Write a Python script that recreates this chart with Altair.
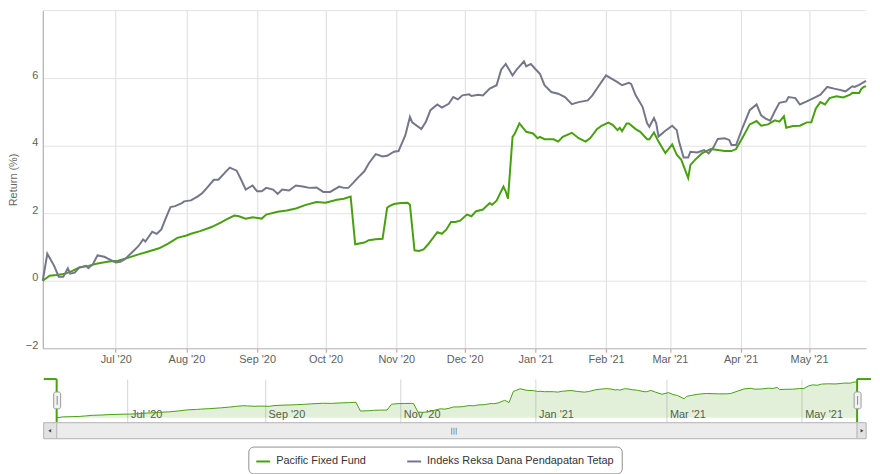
import altair as alt
import pandas as pd

FUND = "Pacific Fixed Fund"
INDEX = "Indeks Reksa Dana Pendapatan Tetap"

fund_dates = [
    "2020-05-30", "2020-06-02", "2020-06-05", "2020-06-09", "2020-06-12", "2020-06-15", "2020-06-19",
    "2020-06-23", "2020-06-28", "2020-07-02", "2020-07-06", "2020-07-11", "2020-07-15", "2020-07-20",
    "2020-07-24", "2020-07-28", "2020-08-01", "2020-08-03", "2020-08-07", "2020-08-12", "2020-08-16",
    "2020-08-19", "2020-08-22", "2020-08-24", "2020-08-27", "2020-08-30", "2020-09-03", "2020-09-05",
    "2020-09-10", "2020-09-14", "2020-09-18", "2020-09-22", "2020-09-27", "2020-10-01", "2020-10-06",
    "2020-10-09", "2020-10-12", "2020-10-14", "2020-10-18", "2020-10-20", "2020-10-23", "2020-10-26",
    "2020-10-28", "2020-10-29", "2020-10-31", "2020-11-03", "2020-11-06", "2020-11-07", "2020-11-09",
    "2020-11-11", "2020-11-13", "2020-11-15", "2020-11-19", "2020-11-21", "2020-11-23", "2020-11-25",
    "2020-11-27", "2020-11-29", "2020-12-02", "2020-12-04", "2020-12-06", "2020-12-09", "2020-12-12",
    "2020-12-13", "2020-12-15", "2020-12-18", "2020-12-19", "2020-12-20", "2020-12-22", "2020-12-23",
    "2020-12-25", "2020-12-28", "2020-12-31", "2021-01-02", "2021-01-03", "2021-01-05", "2021-01-09",
    "2021-01-11", "2021-01-13", "2021-01-17", "2021-01-20", "2021-01-23", "2021-01-25", "2021-01-28",
    "2021-01-30", "2021-02-02", "2021-02-04", "2021-02-06", "2021-02-07", "2021-02-08", "2021-02-10",
    "2021-02-11", "2021-02-14", "2021-02-16", "2021-02-19", "2021-02-20", "2021-02-22", "2021-02-24",
    "2021-02-27", "2021-03-02", "2021-03-04", "2021-03-06", "2021-03-09", "2021-03-10", "2021-03-12",
    "2021-03-15", "2021-03-17", "2021-03-19", "2021-03-22", "2021-03-25", "2021-03-28", "2021-03-30",
    "2021-04-02", "2021-04-05", "2021-04-08", "2021-04-10", "2021-04-13", "2021-04-16", "2021-04-18",
    "2021-04-20", "2021-04-21", "2021-04-24", "2021-04-27", "2021-04-30", "2021-05-02", "2021-05-04",
    "2021-05-06", "2021-05-08", "2021-05-10", "2021-05-13", "2021-05-16", "2021-05-19", "2021-05-20",
    "2021-05-23", "2021-05-24", "2021-05-25", "2021-05-26",
]
fund_values = [
    0.00, 0.15, 0.17, 0.21, 0.29, 0.39, 0.44,
    0.51, 0.57, 0.59, 0.67, 0.78, 0.86, 0.96,
    1.10, 1.27, 1.34, 1.39, 1.47, 1.59, 1.72,
    1.83, 1.93, 1.91, 1.84, 1.88, 1.84, 1.96,
    2.04, 2.08, 2.14, 2.24, 2.33, 2.31, 2.40,
    2.43, 2.49, 1.08, 1.13, 1.20, 1.23, 1.24,
    2.16, 2.21, 2.27, 2.30, 2.31, 2.25, 0.90,
    0.88, 0.93, 1.08, 1.44, 1.39, 1.52, 1.74,
    1.74, 1.78, 1.96, 1.91, 2.06, 2.11, 2.30,
    2.25, 2.37, 2.79, 2.65, 2.43, 4.26, 4.36,
    4.66, 4.41, 4.36, 4.22, 4.26, 4.19, 4.19,
    4.12, 4.26, 4.38, 4.22, 4.12, 4.22, 4.49,
    4.59, 4.68, 4.61, 4.46, 4.53, 4.43, 4.66,
    4.66, 4.49, 4.41, 4.19, 4.19, 4.39, 4.12,
    3.78, 4.04, 3.73, 3.58, 3.04, 3.43, 3.58,
    3.77, 3.84, 3.90, 3.87, 3.84, 3.84, 3.90,
    4.26, 4.63, 4.73, 4.59, 4.63, 4.75, 4.71,
    4.87, 4.53, 4.58, 4.59, 4.69, 4.69, 5.10,
    5.29, 5.22, 5.41, 5.46, 5.43, 5.51, 5.57,
    5.56, 5.69, 5.74, 5.76,
]

index_dates = [
    "2020-05-30", "2020-06-01", "2020-06-04", "2020-06-06", "2020-06-08", "2020-06-10", "2020-06-11",
    "2020-06-13", "2020-06-15", "2020-06-18", "2020-06-19", "2020-06-21", "2020-06-23", "2020-06-26",
    "2020-06-28", "2020-07-01", "2020-07-03", "2020-07-05", "2020-07-08", "2020-07-11", "2020-07-13",
    "2020-07-14", "2020-07-17", "2020-07-19", "2020-07-21", "2020-07-23", "2020-07-25", "2020-07-27",
    "2020-07-30", "2020-07-31", "2020-08-03", "2020-08-06", "2020-08-08", "2020-08-10", "2020-08-13",
    "2020-08-15", "2020-08-18", "2020-08-20", "2020-08-23", "2020-08-25", "2020-08-27", "2020-08-30",
    "2020-09-01", "2020-09-03", "2020-09-05", "2020-09-08", "2020-09-10", "2020-09-12", "2020-09-15",
    "2020-09-18", "2020-09-21", "2020-09-24", "2020-09-27", "2020-09-30", "2020-10-03", "2020-10-07",
    "2020-10-09", "2020-10-11", "2020-10-13", "2020-10-15", "2020-10-18", "2020-10-20", "2020-10-23",
    "2020-10-26", "2020-10-28", "2020-10-31", "2020-11-02", "2020-11-05", "2020-11-07", "2020-11-08",
    "2020-11-12", "2020-11-14", "2020-11-16", "2020-11-19", "2020-11-21", "2020-11-24", "2020-11-26",
    "2020-11-28", "2020-11-30", "2020-12-03", "2020-12-04", "2020-12-07", "2020-12-09", "2020-12-12",
    "2020-12-15", "2020-12-17", "2020-12-19", "2020-12-22", "2020-12-24", "2020-12-27", "2020-12-28",
    "2020-12-30", "2021-01-01", "2021-01-03", "2021-01-05", "2021-01-08", "2021-01-11", "2021-01-14",
    "2021-01-17", "2021-01-20", "2021-01-24", "2021-01-26", "2021-01-29", "2021-02-01", "2021-02-03",
    "2021-02-06", "2021-02-08", "2021-02-11", "2021-02-12", "2021-02-14", "2021-02-17", "2021-02-19",
    "2021-02-20", "2021-02-22", "2021-02-23", "2021-02-24", "2021-02-27", "2021-03-02", "2021-03-04",
    "2021-03-05", "2021-03-07", "2021-03-09", "2021-03-10", "2021-03-13", "2021-03-16", "2021-03-18",
    "2021-03-20", "2021-03-22", "2021-03-25", "2021-03-27", "2021-03-28", "2021-03-30", "2021-04-02",
    "2021-04-05", "2021-04-08", "2021-04-10", "2021-04-12", "2021-04-14", "2021-04-16", "2021-04-18",
    "2021-04-21", "2021-04-22", "2021-04-25", "2021-04-27", "2021-04-30", "2021-05-03", "2021-05-06",
    "2021-05-09", "2021-05-12", "2021-05-14", "2021-05-17", "2021-05-20", "2021-05-21", "2021-05-23",
    "2021-05-25", "2021-05-26",
]
index_values = [
    0.00, 0.80, 0.44, 0.12, 0.12, 0.37, 0.21,
    0.24, 0.39, 0.44, 0.37, 0.49, 0.75, 0.71,
    0.64, 0.54, 0.56, 0.64, 0.83, 1.03, 1.22,
    1.16, 1.45, 1.39, 1.52, 1.86, 2.18, 2.21,
    2.30, 2.35, 2.38, 2.50, 2.60, 2.75, 2.99,
    2.99, 3.21, 3.35, 3.26, 2.99, 2.70, 2.82,
    2.65, 2.65, 2.75, 2.70, 2.57, 2.70, 2.67,
    2.82, 2.79, 2.75, 2.76, 2.63, 2.63, 2.79,
    2.75, 2.75, 2.89, 3.04, 3.24, 3.48, 3.75,
    3.68, 3.70, 3.82, 3.84, 4.31, 4.85, 4.69,
    4.49, 4.71, 5.05, 5.22, 5.13, 5.24, 5.44,
    5.37, 5.49, 5.52, 5.47, 5.51, 5.49, 5.69,
    5.79, 6.25, 6.42, 6.08, 6.27, 6.50, 6.35,
    6.42, 6.27, 6.13, 5.79, 5.59, 5.54, 5.44,
    5.23, 5.29, 5.34, 5.49, 5.79, 6.08, 6.00,
    5.88, 5.79, 5.86, 5.83, 5.49, 5.15, 4.66,
    4.56, 4.82, 4.66, 4.27, 4.44, 4.59, 4.46,
    4.12, 3.65, 3.65, 3.82, 3.80, 3.87, 3.77,
    3.94, 4.20, 4.22, 4.17, 4.02, 4.02, 4.56,
    5.05, 5.22, 4.90, 4.80, 4.74, 5.02, 5.27,
    5.31, 5.44, 5.41, 5.22, 5.31, 5.41, 5.51,
    5.74, 5.69, 5.66, 5.61, 5.76, 5.74, 5.80,
    5.88, 5.92,
]

main_ticks = [(2020, m) for m in range(7, 13)] + [(2021, m) for m in range(1, 6)]
nav_ticks = [(2020, 7), (2020, 9), (2020, 11), (2021, 1), (2021, 3), (2021, 5)]
y_ticks = [-2, 0, 2, 4, 6]
y_top = [8]

GREEN = "#48a010"
GRAY = "#76768a"
FONT = "Liberation Sans, Arial, sans-serif"

fund_df = pd.DataFrame({"date": fund_dates, "ret": fund_values, "series": FUND})
index_df = pd.DataFrame({"date": index_dates, "ret": index_values, "series": INDEX})


def dt(y, m, d=1):
    return alt.DateTime(year=y, month=m, date=d, utc=True)


x_domain = [dt(2020, 5, 30), dt(2021, 5, 26)]

color = alt.Color(
    "series:N",
    scale=alt.Scale(domain=[FUND, INDEX], range=[GREEN, GRAY]),
    legend=alt.Legend(
        title=None, orient="none", legendX=207, legendY=439, direction="horizontal",
        symbolType="stroke", symbolStrokeWidth=2, symbolSize=196,
        labelFont=FONT, labelFontSize=11, labelColor="#333333", labelOffset=5, labelLimit=400,
        strokeColor="#909090", cornerRadius=5, padding=7, columnPadding=37,
        fillColor="#ffffff",
    ),
)

x_main = alt.X(
    "date:T",
    scale=alt.Scale(type="utc", domain=x_domain),
    axis=alt.Axis(
        title=None, values=[dt(y, m) for y, m in main_ticks], format="%b '%y",
        grid=True, gridColor="#dddddd", tickColor="#e08a8a", tickSize=4,
        labelPadding=1, domainColor="#b8b8b8", labelFont=FONT, labelFontSize=11,
        labelColor="#606060", labelFlush=False, labelOverlap=False,
    ),
)
y_main = alt.Y(
    "ret:Q",
    scale=alt.Scale(domain=[-2, 8], nice=False, zero=False),
    axis=alt.Axis(
        title="Return (%)", values=y_ticks,
        grid=True, gridColor="#e3e3e3", tickSize=0, labelPadding=5,
        labelBaseline="alphabetic", domainColor="#a0a0a0",
        labelFont=FONT, labelFontSize=11, labelColor="#606060",
        titleFont=FONT, titleFontSize=11, titleColor="#666666", titleFontWeight="normal",
        titleX=-24,
    ),
)

# top gridline (value 8 has no label in the original)
top_grid = alt.Chart(pd.DataFrame({"ret": y_top})).mark_rule(color="#e3e3e3", strokeWidth=1).encode(
    y=y_main
)
line_fund = alt.Chart(fund_df).mark_line(strokeWidth=2).encode(x=x_main, y=y_main, color=color)
line_index = alt.Chart(index_df).mark_line(strokeWidth=2).encode(x=x_main, y=y_main, color=color)
main = alt.layer(top_grid, line_fund, line_index).properties(width=829, height=340)

# navigator
x_nav = alt.X(
    "date:T",
    scale=alt.Scale(type="utc", domain=x_domain, range=[14, 820]),
    axis=alt.Axis(
        title=None, values=[dt(y, m) for y, m in nav_ticks], format="%b '%y",
        grid=True, gridColor="#d6d6d6", domain=False, ticks=False,
        labelAlign="left", labelBaseline="alphabetic", labelPadding=-5, labelOffset=3,
        labelFont=FONT, labelFontSize=11, labelColor="#555555",
        labelFlush=False, labelOverlap=False,
    ),
)
y_nav = alt.Y("ret:Q", scale=alt.Scale(domain=[-0.8, 6.22], nice=False, zero=False), axis=None)

nav_area = alt.Chart(fund_df).mark_area(
    color=GREEN, fillOpacity=0.16, line={"color": GREEN, "strokeWidth": 1}
).encode(x=x_nav, y=y_nav, y2=alt.value(44))

one = pd.DataFrame({"k": [0]})
base = alt.Chart(one)

track = base.mark_rect(fill="#eeeeee", stroke="#bbbbbb", strokeWidth=1).encode(
    x=alt.value(1), x2=alt.value(829), y=alt.value(44), y2=alt.value(60))
btn_l = base.mark_rect(fill="#e2e2e2", stroke="#bbbbbb", strokeWidth=1).encode(
    x=alt.value(1), x2=alt.value(14), y=alt.value(44), y2=alt.value(60))
btn_r = base.mark_rect(fill="#e2e2e2", stroke="#bbbbbb", strokeWidth=1).encode(
    x=alt.value(820), x2=alt.value(829), y=alt.value(44), y2=alt.value(60))
thumb = base.mark_rect(fill="#ececec", stroke="#bbbbbb", strokeWidth=1).encode(
    x=alt.value(14), x2=alt.value(820), y=alt.value(44), y2=alt.value(60))
grip = base.mark_text(text="|||", fontSize=7, color="#555555", font="DejaVu Sans").encode(
    x=alt.value(414), y=alt.value(52))
arr_l = base.mark_point(shape="triangle-left", filled=True, size=12, color="#444444", opacity=1).encode(
    x=alt.value(7), y=alt.value(52))
arr_r = base.mark_point(shape="triangle-right", filled=True, size=12, color="#444444", opacity=1).encode(
    x=alt.value(825), y=alt.value(52))

out_tl = base.mark_rule(color=GREEN, strokeWidth=2).encode(x=alt.value(1), x2=alt.value(14), y=alt.value(0))
out_l = base.mark_rule(color=GREEN, strokeWidth=2).encode(x=alt.value(14), y=alt.value(0), y2=alt.value(44))
out_r = base.mark_rule(color=GREEN, strokeWidth=2).encode(x=alt.value(820), y=alt.value(0), y2=alt.value(44))
out_tr = base.mark_rule(color=GREEN, strokeWidth=2).encode(x=alt.value(820), x2=alt.value(834), y=alt.value(0))

handles = []
for hx in (14, 820):
    handles.append(base.mark_rect(fill="#f2f2f2", stroke="#999999", strokeWidth=1, cornerRadius=2).encode(
        x=alt.value(hx - 3), x2=alt.value(hx + 4), y=alt.value(13), y2=alt.value(30)))
    handles.append(base.mark_rule(color="#888888", strokeWidth=1).encode(
        x=alt.value(hx + 0.5), y=alt.value(17), y2=alt.value(26)))

nav = alt.layer(
    nav_area, out_tl, out_l, out_r, out_tr, track, thumb, btn_l, btn_r, grip, arr_l, arr_r, *handles
).properties(width=829, height=44)

chart = alt.vconcat(main, nav, spacing=14).properties(
    padding={"left": 0, "top": 0, "right": 0, "bottom": 0}
).configure_view(strokeWidth=0)

chart.save("out.html", embed_options={"renderer": "svg", "actions": False})
